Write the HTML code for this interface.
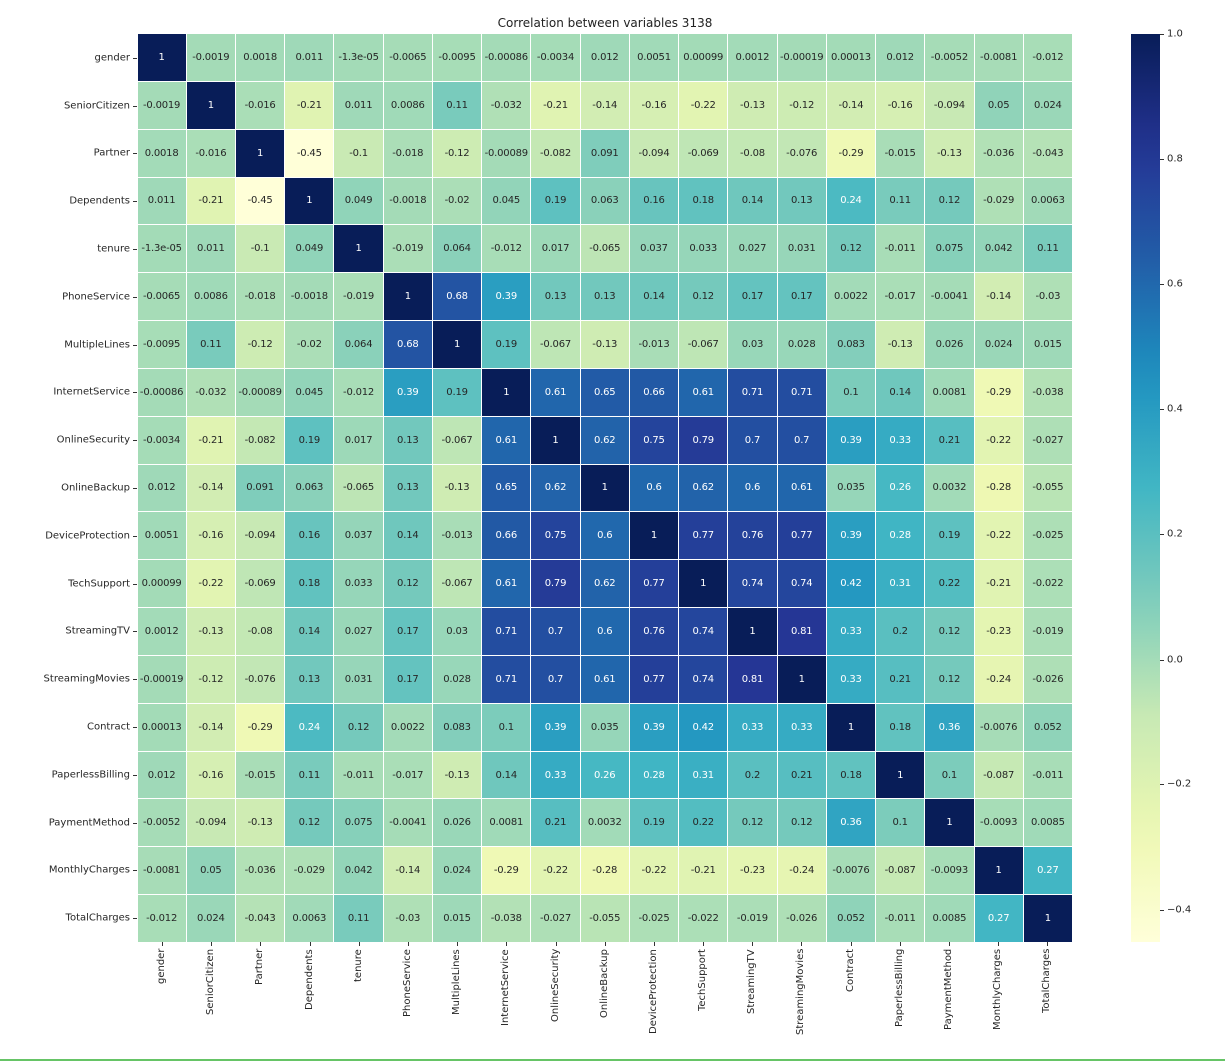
<!DOCTYPE html>
<html><head><meta charset="utf-8">
<style>
body{margin:0;width:1225px;height:1062px;background:#fff;position:relative;overflow:hidden;font-family:"DejaVu Sans","Liberation Sans",sans-serif;color:#262626}
#title{position:absolute;top:16px;left:0;width:1210px;text-align:center;font-size:12px;color:#222}
#grid{position:absolute;left:137.5px;top:34px;width:934.5px;height:908px;display:grid;grid-template-columns:repeat(19,1fr);grid-template-rows:repeat(19,1fr);gap:1px;background:#fff}
#grid i{font-style:normal;font-size:10px;display:flex;align-items:center;justify-content:center;white-space:nowrap;letter-spacing:-0.2px}
.yl{position:absolute;right:1095px;font-size:10px;white-space:nowrap;transform:translateY(-50%)}
.xl{position:absolute;top:948px;font-size:10px;white-space:nowrap;transform-origin:0 0;}
.ytk{position:absolute;left:133px;width:4px;height:1px;background:#333}
.xtk{position:absolute;top:942px;width:1px;height:4px;background:#333}
#cb{position:absolute;left:1131px;top:34px;width:29px;height:908px}
.tk{position:absolute;left:1160px;width:4px;height:1px;background:#333}
.tl{position:absolute;left:1167px;font-size:10px;transform:translateY(-50%)}
#bl{position:absolute;left:0;top:1059px;width:1225px;height:2px;background:#66c466}
</style></head><body>
<div id="title">Correlation between variables 3138</div>
<div id="grid">
<i>1</i><i>-0.0019</i><i>0.0018</i><i>0.011</i><i>-1.3e-05</i><i>-0.0065</i><i>-0.0095</i><i>-0.00086</i><i>-0.0034</i><i>0.012</i><i>0.0051</i><i>0.00099</i><i>0.0012</i><i>-0.00019</i><i>0.00013</i><i>0.012</i><i>-0.0052</i><i>-0.0081</i><i>-0.012</i>
<i>-0.0019</i><i>1</i><i>-0.016</i><i>-0.21</i><i>0.011</i><i>0.0086</i><i>0.11</i><i>-0.032</i><i>-0.21</i><i>-0.14</i><i>-0.16</i><i>-0.22</i><i>-0.13</i><i>-0.12</i><i>-0.14</i><i>-0.16</i><i>-0.094</i><i>0.05</i><i>0.024</i>
<i>0.0018</i><i>-0.016</i><i>1</i><i>-0.45</i><i>-0.1</i><i>-0.018</i><i>-0.12</i><i>-0.00089</i><i>-0.082</i><i>0.091</i><i>-0.094</i><i>-0.069</i><i>-0.08</i><i>-0.076</i><i>-0.29</i><i>-0.015</i><i>-0.13</i><i>-0.036</i><i>-0.043</i>
<i>0.011</i><i>-0.21</i><i>-0.45</i><i>1</i><i>0.049</i><i>-0.0018</i><i>-0.02</i><i>0.045</i><i>0.19</i><i>0.063</i><i>0.16</i><i>0.18</i><i>0.14</i><i>0.13</i><i>0.24</i><i>0.11</i><i>0.12</i><i>-0.029</i><i>0.0063</i>
<i>-1.3e-05</i><i>0.011</i><i>-0.1</i><i>0.049</i><i>1</i><i>-0.019</i><i>0.064</i><i>-0.012</i><i>0.017</i><i>-0.065</i><i>0.037</i><i>0.033</i><i>0.027</i><i>0.031</i><i>0.12</i><i>-0.011</i><i>0.075</i><i>0.042</i><i>0.11</i>
<i>-0.0065</i><i>0.0086</i><i>-0.018</i><i>-0.0018</i><i>-0.019</i><i>1</i><i>0.68</i><i>0.39</i><i>0.13</i><i>0.13</i><i>0.14</i><i>0.12</i><i>0.17</i><i>0.17</i><i>0.0022</i><i>-0.017</i><i>-0.0041</i><i>-0.14</i><i>-0.03</i>
<i>-0.0095</i><i>0.11</i><i>-0.12</i><i>-0.02</i><i>0.064</i><i>0.68</i><i>1</i><i>0.19</i><i>-0.067</i><i>-0.13</i><i>-0.013</i><i>-0.067</i><i>0.03</i><i>0.028</i><i>0.083</i><i>-0.13</i><i>0.026</i><i>0.024</i><i>0.015</i>
<i>-0.00086</i><i>-0.032</i><i>-0.00089</i><i>0.045</i><i>-0.012</i><i>0.39</i><i>0.19</i><i>1</i><i>0.61</i><i>0.65</i><i>0.66</i><i>0.61</i><i>0.71</i><i>0.71</i><i>0.1</i><i>0.14</i><i>0.0081</i><i>-0.29</i><i>-0.038</i>
<i>-0.0034</i><i>-0.21</i><i>-0.082</i><i>0.19</i><i>0.017</i><i>0.13</i><i>-0.067</i><i>0.61</i><i>1</i><i>0.62</i><i>0.75</i><i>0.79</i><i>0.7</i><i>0.7</i><i>0.39</i><i>0.33</i><i>0.21</i><i>-0.22</i><i>-0.027</i>
<i>0.012</i><i>-0.14</i><i>0.091</i><i>0.063</i><i>-0.065</i><i>0.13</i><i>-0.13</i><i>0.65</i><i>0.62</i><i>1</i><i>0.6</i><i>0.62</i><i>0.6</i><i>0.61</i><i>0.035</i><i>0.26</i><i>0.0032</i><i>-0.28</i><i>-0.055</i>
<i>0.0051</i><i>-0.16</i><i>-0.094</i><i>0.16</i><i>0.037</i><i>0.14</i><i>-0.013</i><i>0.66</i><i>0.75</i><i>0.6</i><i>1</i><i>0.77</i><i>0.76</i><i>0.77</i><i>0.39</i><i>0.28</i><i>0.19</i><i>-0.22</i><i>-0.025</i>
<i>0.00099</i><i>-0.22</i><i>-0.069</i><i>0.18</i><i>0.033</i><i>0.12</i><i>-0.067</i><i>0.61</i><i>0.79</i><i>0.62</i><i>0.77</i><i>1</i><i>0.74</i><i>0.74</i><i>0.42</i><i>0.31</i><i>0.22</i><i>-0.21</i><i>-0.022</i>
<i>0.0012</i><i>-0.13</i><i>-0.08</i><i>0.14</i><i>0.027</i><i>0.17</i><i>0.03</i><i>0.71</i><i>0.7</i><i>0.6</i><i>0.76</i><i>0.74</i><i>1</i><i>0.81</i><i>0.33</i><i>0.2</i><i>0.12</i><i>-0.23</i><i>-0.019</i>
<i>-0.00019</i><i>-0.12</i><i>-0.076</i><i>0.13</i><i>0.031</i><i>0.17</i><i>0.028</i><i>0.71</i><i>0.7</i><i>0.61</i><i>0.77</i><i>0.74</i><i>0.81</i><i>1</i><i>0.33</i><i>0.21</i><i>0.12</i><i>-0.24</i><i>-0.026</i>
<i>0.00013</i><i>-0.14</i><i>-0.29</i><i>0.24</i><i>0.12</i><i>0.0022</i><i>0.083</i><i>0.1</i><i>0.39</i><i>0.035</i><i>0.39</i><i>0.42</i><i>0.33</i><i>0.33</i><i>1</i><i>0.18</i><i>0.36</i><i>-0.0076</i><i>0.052</i>
<i>0.012</i><i>-0.16</i><i>-0.015</i><i>0.11</i><i>-0.011</i><i>-0.017</i><i>-0.13</i><i>0.14</i><i>0.33</i><i>0.26</i><i>0.28</i><i>0.31</i><i>0.2</i><i>0.21</i><i>0.18</i><i>1</i><i>0.1</i><i>-0.087</i><i>-0.011</i>
<i>-0.0052</i><i>-0.094</i><i>-0.13</i><i>0.12</i><i>0.075</i><i>-0.0041</i><i>0.026</i><i>0.0081</i><i>0.21</i><i>0.0032</i><i>0.19</i><i>0.22</i><i>0.12</i><i>0.12</i><i>0.36</i><i>0.1</i><i>1</i><i>-0.0093</i><i>0.0085</i>
<i>-0.0081</i><i>0.05</i><i>-0.036</i><i>-0.029</i><i>0.042</i><i>-0.14</i><i>0.024</i><i>-0.29</i><i>-0.22</i><i>-0.28</i><i>-0.22</i><i>-0.21</i><i>-0.23</i><i>-0.24</i><i>-0.0076</i><i>-0.087</i><i>-0.0093</i><i>1</i><i>0.27</i>
<i>-0.012</i><i>0.024</i><i>-0.043</i><i>0.0063</i><i>0.11</i><i>-0.03</i><i>0.015</i><i>-0.038</i><i>-0.027</i><i>-0.055</i><i>-0.025</i><i>-0.022</i><i>-0.019</i><i>-0.026</i><i>0.052</i><i>-0.011</i><i>0.0085</i><i>0.27</i><i>1</i>
</div>
<div id="yls"><span class="yl">gender</span><span class="yl">SeniorCitizen</span><span class="yl">Partner</span><span class="yl">Dependents</span><span class="yl">tenure</span><span class="yl">PhoneService</span><span class="yl">MultipleLines</span><span class="yl">InternetService</span><span class="yl">OnlineSecurity</span><span class="yl">OnlineBackup</span><span class="yl">DeviceProtection</span><span class="yl">TechSupport</span><span class="yl">StreamingTV</span><span class="yl">StreamingMovies</span><span class="yl">Contract</span><span class="yl">PaperlessBilling</span><span class="yl">PaymentMethod</span><span class="yl">MonthlyCharges</span><span class="yl">TotalCharges</span></div>
<div id="xls"><span class="xl">gender</span><span class="xl">SeniorCitizen</span><span class="xl">Partner</span><span class="xl">Dependents</span><span class="xl">tenure</span><span class="xl">PhoneService</span><span class="xl">MultipleLines</span><span class="xl">InternetService</span><span class="xl">OnlineSecurity</span><span class="xl">OnlineBackup</span><span class="xl">DeviceProtection</span><span class="xl">TechSupport</span><span class="xl">StreamingTV</span><span class="xl">StreamingMovies</span><span class="xl">Contract</span><span class="xl">PaperlessBilling</span><span class="xl">PaymentMethod</span><span class="xl">MonthlyCharges</span><span class="xl">TotalCharges</span></div>
<div id="ticks"></div>
<div id="cb"></div>
<div class="tk" style="top:34px"></div><div class="tl" style="top:34px">1.0</div>
<div class="tk" style="top:159px"></div><div class="tl" style="top:159px">0.8</div>
<div class="tk" style="top:284px"></div><div class="tl" style="top:284px">0.6</div>
<div class="tk" style="top:409px"></div><div class="tl" style="top:409px">0.4</div>
<div class="tk" style="top:534px"></div><div class="tl" style="top:534px">0.2</div>
<div class="tk" style="top:660px"></div><div class="tl" style="top:660px">0.0</div>
<div class="tk" style="top:784px"></div><div class="tl" style="top:784px">−0.2</div>
<div class="tk" style="top:910px"></div><div class="tl" style="top:910px">−0.4</div>
<div id="bl"></div>
<script>
var S=[[255,255,217],[237,248,177],[199,233,180],[127,205,187],[65,182,196],[29,145,192],[34,94,168],[37,52,148],[8,29,88]];
var vmin=-0.4528,vmax=1.0;
function col(v){var t=(v-vmin)/(vmax-vmin);t=Math.max(0,Math.min(1,t))*8;var i=Math.min(7,Math.floor(t)),f=t-i;var c=[0,1,2].map(function(k){return Math.round(S[i][k]+(S[i+1][k]-S[i][k])*f)});return c;}
function lum(c){var r=c.map(function(x){x/=255;return x<=0.03928?x/12.92:Math.pow((x+0.055)/1.055,2.4)});return 0.2126*r[0]+0.7152*r[1]+0.0722*r[2];}
document.querySelectorAll('#grid i').forEach(function(e){var c=col(parseFloat(e.textContent));e.style.background='rgb('+c+')';e.style.color=lum(c)>0.408?'#262626':'#fff';});
var stops=[];for(var k=0;k<=20;k++){var v=vmax-(vmax-vmin)*k/20;stops.push('rgb('+col(v)+') '+(k*5)+'%');}
document.getElementById('cb').style.background='linear-gradient(to bottom,'+stops.join(',')+')';
var ch=908/19,cw=934.5/19,tk=document.getElementById('ticks'),h='';
for(var i=0;i<19;i++){h+='<div class="ytk" style="top:'+(34+ch*(i+0.5))+'px"></div><div class="xtk" style="left:'+(137.5+cw*(i+0.5))+'px"></div>';}
tk.innerHTML=h;
document.querySelectorAll('.yl').forEach(function(e,i){e.style.top=(34+ch*(i+0.5))+'px';});
document.querySelectorAll('.xl').forEach(function(e,i){var w=e.offsetWidth;e.style.left=(137.5+cw*(i+0.5)-6)+'px';e.style.top=(949+w)+'px';e.style.transform='rotate(-90deg)';});
</script>
</body></html>
